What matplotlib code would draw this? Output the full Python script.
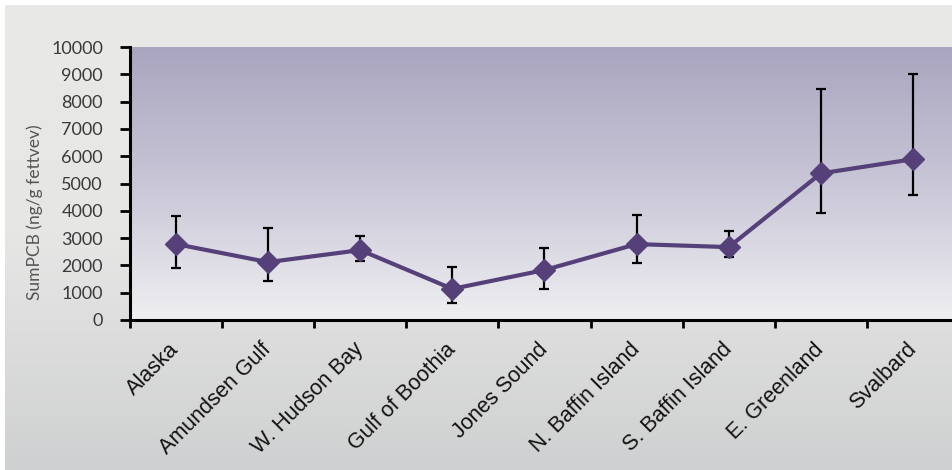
import numpy as np
import matplotlib
matplotlib.use('Agg')
import matplotlib.pyplot as plt
from matplotlib.colors import LinearSegmentedColormap

# 数据
stations = ['Alaska', 'Amundsen Gulf', 'W. Hudson Bay', 'Gulf of Boothia', 'Jones Sound',
            'N. Baffin Island', 'S. Baffin Island', 'E. Greenland', 'Svalbard']
sum_pcb = [2780, 2120, 2560, 1140, 1830, 2780, 2670, 5370, 5890]
err_upper = [3800, 3370, 3080, 1950, 2630, 3850, 3270, 8460, 9000]
err_lower = [1900, 1430, 2150, 620, 1140, 2080, 2320, 3930, 4570]
yticks = [0, 1000, 2000, 3000, 4000, 5000, 6000, 7000, 8000, 9000, 10000]

W, H = 953, 470
fig = plt.figure(figsize=(W / 100, H / 100), dpi=100, facecolor='white')

# 外框背景渐变（左/上留白边）
bg = fig.add_axes([5 / W, 0, 1 - 5 / W, 1 - 5 / H])
bg.axis('off')
bg_cmap = LinearSegmentedColormap.from_list('bg', ['#e9e9e7', '#e6e6e5', '#cfd0d1'])
bg.imshow(np.linspace(0, 1, 256).reshape(-1, 1), aspect='auto', cmap=bg_cmap,
          extent=[0, 1, 0, 1], origin='upper')
bg.set_xlim(0, 1)
bg.set_ylim(0, 1)

# 绘图区
left, right, top, bottom = 130, 953, 47, 320
ax = fig.add_axes([left / W, 1 - bottom / H, (right - left) / W, (bottom - top) / H])
x = np.arange(len(stations))
xmax = 8.5 - 6 / 92.3
ax.set_xlim(-0.5, xmax)
ax.set_ylim(0, 10000)

plot_cmap = LinearSegmentedColormap.from_list('plot', ['#aaa5bf', '#c9c6d7', '#efeff1'])
ax.imshow(np.linspace(0, 1, 256).reshape(-1, 1), aspect='auto', cmap=plot_cmap,
          extent=[-0.5, xmax, 0, 10000], origin='upper', zorder=0)

yerr = [np.array(sum_pcb) - np.array(err_lower), np.array(err_upper) - np.array(sum_pcb)]
ax.errorbar(x, sum_pcb, yerr=yerr, fmt='none', ecolor='black', elinewidth=1.6,
            capsize=3.5, capthick=1.6, zorder=2)
ax.plot(x, sum_pcb, color='#55407a', linewidth=3, marker='D', markersize=11.5,
        markerfacecolor='#55407a', markeredgecolor='#55407a', zorder=3)

for s in ['top', 'right']:
    ax.spines[s].set_visible(False)
for s in ['left', 'bottom']:
    ax.spines[s].set_linewidth(2.2)
    ax.spines[s].set_color('black')

ax.set_yticks(yticks)
ax.set_yticklabels([str(v) for v in yticks], fontsize=13, color='#3a3a3a', family='Lato')
ax.tick_params(axis='y', direction='out', length=7.5, width=2, pad=12)

ax.set_xticks(np.arange(-0.5, 8.5, 1), minor=False)
ax.set_xticklabels([])
ax.tick_params(axis='x', direction='out', length=5.5, width=2)
ax.set_xticks(x, minor=True)
ax.set_xticklabels(stations, minor=True, rotation=45, ha='right', va='center',
                   rotation_mode='anchor', fontsize=15.5, family='Liberation Sans',
                   color='#111111')
ax.tick_params(axis='x', which='minor', length=0, pad=19)

ax.set_ylabel('SumPCB (ng/g fettvev)', fontsize=12.5, color='#555555', family='Lato')
ax.yaxis.set_label_coords(-0.106, 0.395)

fig.savefig('out.png', dpi=100, facecolor=fig.get_facecolor())
